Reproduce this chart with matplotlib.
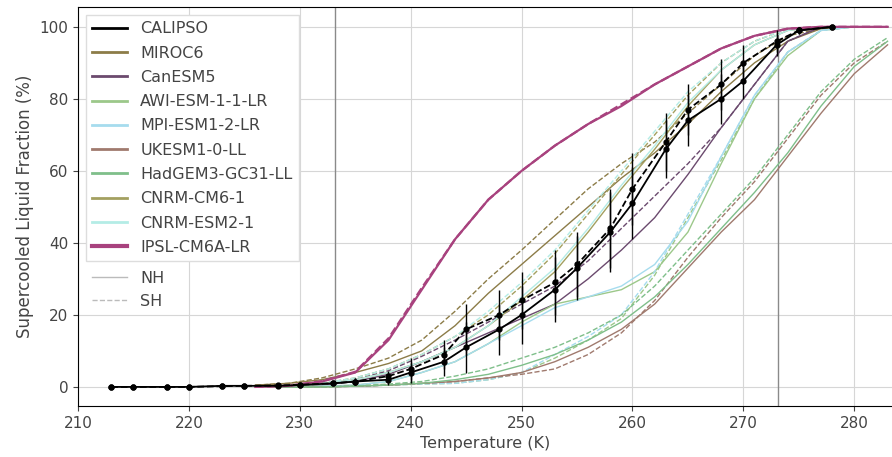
import numpy as np
import matplotlib
matplotlib.use("Agg")
import matplotlib.pyplot as plt
from matplotlib.lines import Line2D

# --- CALIPSO observations (NH solid, SH dashed) ---
cal_T = [213, 215, 218, 220, 223, 225, 228, 230, 233, 235, 238, 240, 243, 245,
         248, 250, 253, 255, 258, 260, 263, 265, 268, 270, 273, 275, 278]
cal_nh = [0, 0, 0, 0, 0.3, 0.3, 0.3, 0.5, 1, 1.5, 2, 4, 7, 11,
          16, 20, 27, 33, 43, 51, 66, 74, 80, 85, 95, 99, 100]
cal_sh = [0, 0, 0, 0, 0.2, 0.3, 0.4, 0.6, 1, 1.5, 3, 5, 9, 16,
          20, 24, 29, 34, 44, 55, 68, 77, 84, 90, 96, 99, 100]
cal_err = [0, 0, 0, 0, 0, 0, 0, 0, 0.5, 1, 1.5, 3, 4, 7,
           7, 8, 9, 9, 11, 10, 8, 7, 7, 5, 3, 1, 0]

# --- model curves on a common temperature grid ---
T = [226, 229, 232, 235, 238, 241, 244, 247, 250, 253, 256, 259, 262, 265, 268, 271, 274, 277, 280, 283]

MODELS = ["MIROC6", "CanESM5", "AWI-ESM-1-1-LR", "MPI-ESM1-2-LR", "UKESM1-0-LL",
          "HadGEM3-GC31-LL", "CNRM-CM6-1", "CNRM-ESM2-1", "IPSL-CM6A-LR"]
COLORS = ["#8c7c48", "#6b4a6e", "#9cc88a", "#a6dcee", "#a07a6e",
          "#7fbf8a", "#a3a060", "#b4ece6", "#a8427e"]

miroc_nh = [0.5, 1, 2, 4, 6.5, 10, 17, 26, 34, 42, 50, 58, 65, 73, 82, 90, 96, 99.5, 100, 100]
miroc_sh = [0.5, 1, 2.5, 5, 8, 13, 21, 30, 38, 46.5, 55, 62, 68, 76, 84, 92, 97.5, 99.5, 100, 100]
canesm_nh = [0, 0.2, 0.5, 1.5, 3.5, 7, 11, 15, 19, 23, 30, 38, 47, 59, 72, 84, 96, 100, 100, 100]
canesm_sh = [0, 0.2, 0.7, 2, 4.5, 8.5, 13, 18, 23, 28, 35, 44, 53, 62, 72, 84, 96, 100, 100, 100]
awi_nh = [0, 0, 0.2, 0.5, 1.5, 4, 7, 12, 18, 23, 25, 27, 32, 43, 62, 80, 92, 99, 100, 100]
awi_sh = [0, 0, 0, 0.2, 0.5, 0.8, 1, 2, 4, 8, 13, 19, 31, 47, 63, 80, 93, 99, 100, 100]
mpi_nh = [0, 0, 0.2, 0.5, 1.5, 4, 7, 12, 17, 22, 25, 28, 34, 46, 64, 81, 93, 99, 100, 100]
mpi_sh = [0, 0, 0, 0.2, 0.5, 0.8, 1, 2, 4, 9, 14, 20, 32, 48, 64, 81, 93, 99, 100, 100]
ukesm_nh = [0, 0, 0, 0.2, 0.5, 1, 1.5, 2.5, 4, 7, 11, 16, 23, 33, 43, 52, 64, 76, 87, 95]
ukesm_sh = [0, 0, 0, 0.2, 0.5, 1, 1.5, 2.5, 3.5, 5, 9, 15, 24, 36, 47, 57, 69, 81, 90, 96]
hadgem_nh = [0, 0, 0, 0.2, 0.5, 1, 2, 3.5, 6, 9, 13, 18, 25, 34, 44, 54, 65, 78, 89, 96]
hadgem_sh = [0, 0, 0, 0.3, 0.8, 1.5, 3, 5, 8, 11, 15, 20, 28, 38, 48, 58, 70, 82, 91, 97]
cnrm_nh = [0, 0.2, 0.8, 2, 4, 7, 11, 17, 24, 32, 43, 55, 66, 78, 88, 95, 99, 100, 100, 100]
cnrm_sh = [0, 0.3, 1, 2.5, 5, 9, 14, 20, 28, 37, 48, 59, 70, 81, 90, 96, 99.5, 100, 100, 100]
cnrmesm_nh = [0, 0.2, 0.8, 2, 4, 7, 11, 17, 25, 33, 44, 56, 67, 79, 88, 95, 99, 100, 100, 100]
cnrmesm_sh = [0, 0.3, 1, 2.5, 5, 9, 14, 21, 29, 38, 49, 60, 71, 82, 90, 96, 99.5, 100, 100, 100]
ipsl_nh = [0, 0.3, 1.5, 4, 13, 27, 41, 52, 60, 67, 73, 78, 84, 89, 94, 97.5, 99.5, 100, 100, 100]
ipsl_sh = [0, 0.3, 1.6, 4.2, 13.5, 27.5, 41, 52, 60, 67, 73, 78.5, 84, 89, 94, 97.5, 99.5, 100, 100, 100]

nh_series = [miroc_nh, canesm_nh, awi_nh, mpi_nh, ukesm_nh, hadgem_nh, cnrm_nh, cnrmesm_nh, ipsl_nh]
sh_series = [miroc_sh, canesm_sh, awi_sh, mpi_sh, ukesm_sh, hadgem_sh, cnrm_sh, cnrmesm_sh, ipsl_sh]

fig = plt.figure(figsize=(8.92, 4.57), dpi=100)
ax = fig.add_axes([0.0874, 0.1116, 0.9126, 0.873])

ax.grid(True, color="#d6d6d6", lw=0.8)
ax.set_axisbelow(True)
ax.axvline(233.15, color="#8a8a8a", lw=1)
ax.axvline(273.15, color="#8a8a8a", lw=1)

for name, col, nh, sh in zip(MODELS, COLORS, nh_series, sh_series):
    lw = 1.6 if name == "IPSL-CM6A-LR" else 1.0
    ax.plot(T, nh, color=col, lw=lw, ls="-")
    ax.plot(T, sh, color=col, lw=lw, ls="--")

ax.errorbar(cal_T, cal_nh, yerr=cal_err, color="black", lw=1.3, marker="o", ms=3.5,
            ecolor="black", elinewidth=1.0, zorder=5)
ax.errorbar(cal_T, cal_sh, yerr=cal_err, color="black", lw=1.3, ls="--", marker="o", ms=3.5,
            ecolor="black", elinewidth=1.0, zorder=5)

ax.set_xlim(210, 283.4)
ax.set_ylim(-5.3, 105.5)
ax.set_xticks(range(210, 281, 10))
ax.set_yticks(range(0, 101, 20))
ax.spines["right"].set_visible(False)
ax.tick_params(labelsize=11, colors="#444444")
ax.set_xlabel("Temperature (K)", fontsize=11.5, color="#444444")
ax.set_ylabel("Supercooled Liquid Fraction (%)", fontsize=12, color="#444444")

model_handles = [Line2D([], [], color="black", lw=2)] + \
    [Line2D([], [], color=c, lw=(3 if n == "IPSL-CM6A-LR" else 2)) for n, c in zip(MODELS, COLORS)]
leg1 = ax.legend(model_handles, ["CALIPSO"] + MODELS, loc="upper left", fontsize=11.5,
                 labelspacing=0.58, handlelength=2.2, borderaxespad=0.5, framealpha=1,
                 edgecolor="#dddddd", fancybox=False, labelcolor="#444444")
ax.add_artist(leg1)
hemi_handles = [Line2D([], [], color="#bbbbbb", lw=1, ls="-"),
                Line2D([], [], color="#bbbbbb", lw=1, ls="--")]
ax.legend(hemi_handles, ["NH", "SH"], loc="upper left", bbox_to_anchor=(0.0, 0.375),
          fontsize=11.5, frameon=False, labelspacing=0.5, handlelength=2.2,
          labelcolor="#444444")

fig.savefig("out.png", dpi=100)
